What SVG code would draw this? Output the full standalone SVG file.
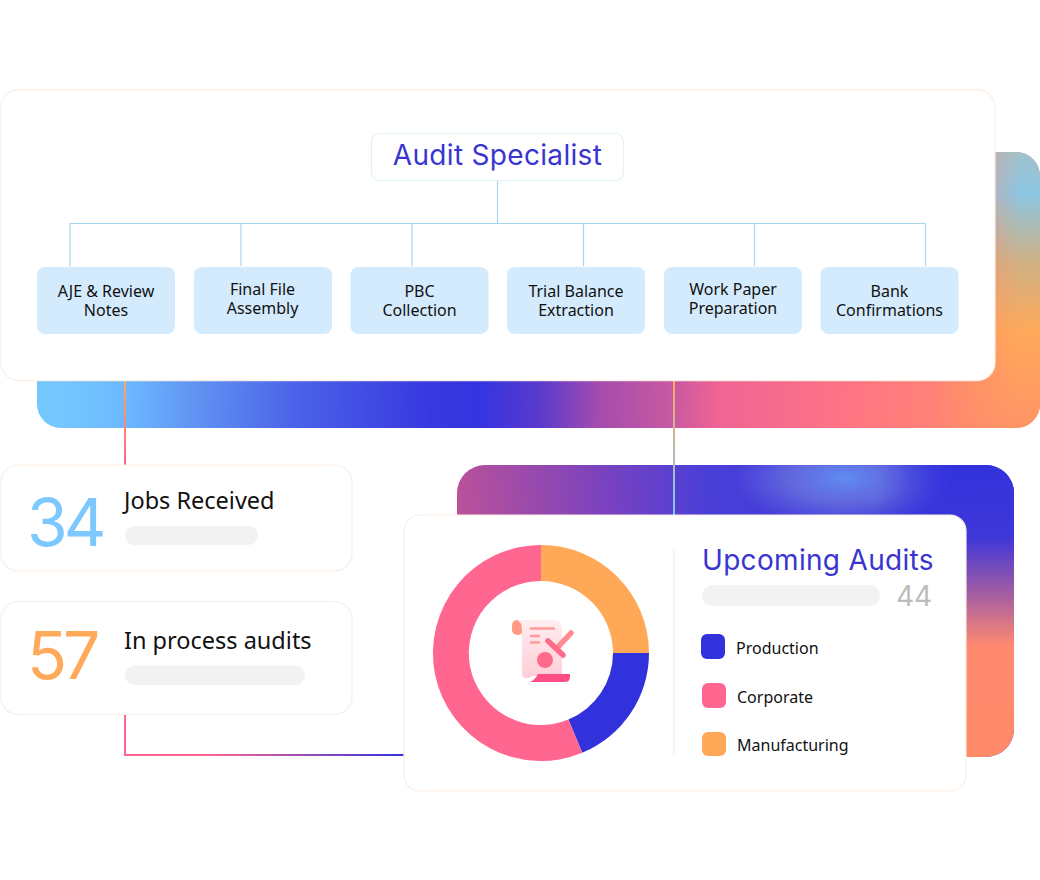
<svg xmlns="http://www.w3.org/2000/svg" width="1040" height="880" viewBox="0 0 1040 880">
<style>
.card{fill:#fff;stroke:#fbeee4;stroke-width:1.2}
.task{fill:#d4ebfd}
.tl{font-family:"Noto Sans","Open Sans",sans-serif;font-size:16px;fill:#111;text-anchor:middle}
.h{font-family:Inter,"Liberation Sans",sans-serif;fill:#3a35d0;font-size:28px;letter-spacing:.32px}
.big{font-family:Inter,"Liberation Sans",sans-serif;font-size:66px;font-weight:400;letter-spacing:-4px}
.lab{font-family:"Noto Sans","Open Sans",sans-serif;font-size:23.500px;fill:#111}
.leg{font-family:"Noto Sans","Open Sans",sans-serif;font-size:16px;fill:#111}
.bar{fill:#f2f2f2}
.tree{fill:none;stroke:#a5d8ee;stroke-width:1.2}
</style>
<defs>
<linearGradient id="b1" gradientUnits="userSpaceOnUse" x1="60" y1="385" x2="1040" y2="425">
<stop offset="0" stop-color="#74c7ff"/><stop offset=".07" stop-color="#6cb8ff"/><stop offset=".14" stop-color="#6092f2"/><stop offset=".245" stop-color="#4a60e8"/><stop offset=".38" stop-color="#3838e0"/><stop offset=".43" stop-color="#3535e0"/><stop offset=".49" stop-color="#5a3acc"/><stop offset=".55" stop-color="#a44cae"/><stop offset=".63" stop-color="#cc5aa0"/><stop offset=".67" stop-color="#ee6494"/><stop offset=".8" stop-color="#ff7484"/><stop offset="1" stop-color="#ff9266"/>
</linearGradient>
<linearGradient id="b1r" gradientUnits="userSpaceOnUse" x1="0" y1="152" x2="0" y2="428">
<stop offset="0" stop-color="#a0c2cc"/><stop offset=".15" stop-color="#8cc6e4"/><stop offset=".4" stop-color="#cfb184"/><stop offset=".65" stop-color="#ffa95a"/><stop offset="1" stop-color="#ff9466"/>
</linearGradient>
<linearGradient id="b2" gradientUnits="userSpaceOnUse" x1="457" y1="530" x2="1014" y2="480">
<stop offset="0" stop-color="#bb5298"/><stop offset=".27" stop-color="#7a42bf"/><stop offset=".45" stop-color="#4a3fd8"/><stop offset="1" stop-color="#3232dd"/>
</linearGradient>
<radialGradient id="glow" gradientUnits="userSpaceOnUse" cx="0" cy="0" r="1" gradientTransform="translate(845 478) scale(110 50)">
<stop offset="0" stop-color="#5f8cf2"/><stop offset=".5" stop-color="#6f7ae0" stop-opacity=".7"/><stop offset="1" stop-color="#6f7ae0" stop-opacity="0"/>
</radialGradient>
<linearGradient id="b2r" gradientUnits="userSpaceOnUse" x1="0" y1="465" x2="0" y2="757">
<stop offset="0" stop-color="#3232dd"/><stop offset=".25" stop-color="#3f37d8"/><stop offset=".45" stop-color="#a85fa0"/><stop offset=".62" stop-color="#ff8a70"/><stop offset="1" stop-color="#ff8a68"/>
</linearGradient>
<linearGradient id="fade1" gradientUnits="userSpaceOnUse" x1="930" y1="0" x2="1020" y2="0"><stop offset="0" stop-color="#000"/><stop offset="1" stop-color="#fff"/></linearGradient>
<linearGradient id="fade2" gradientUnits="userSpaceOnUse" x1="880" y1="0" x2="965" y2="0"><stop offset="0" stop-color="#000"/><stop offset="1" stop-color="#fff"/></linearGradient>
<mask id="m1" maskUnits="userSpaceOnUse" x="0" y="0" width="1040" height="880"><rect width="1040" height="880" fill="url(#fade1)"/></mask>
<mask id="m2" maskUnits="userSpaceOnUse" x="0" y="0" width="1040" height="880"><rect width="1040" height="880" fill="url(#fade2)"/></mask>
<linearGradient id="c1" gradientUnits="userSpaceOnUse" x1="0" y1="381" x2="0" y2="465"><stop offset="0" stop-color="#ffa95a"/><stop offset="1" stop-color="#ff6690"/></linearGradient>
<linearGradient id="c2" gradientUnits="userSpaceOnUse" x1="125" y1="0" x2="404" y2="0"><stop offset="0" stop-color="#ff6690"/><stop offset=".3" stop-color="#ff6690"/><stop offset="1" stop-color="#3232dd"/></linearGradient>
<linearGradient id="c3" gradientUnits="userSpaceOnUse" x1="0" y1="381" x2="0" y2="515"><stop offset="0" stop-color="#ffa95a"/><stop offset="1" stop-color="#7cc8ff"/></linearGradient>
<linearGradient id="paper" x1="0" y1="0" x2="0" y2="1"><stop offset="0" stop-color="#ffeef0"/><stop offset="1" stop-color="#ffcdd8"/></linearGradient>
</defs>
<g id="backdrops">
<rect x="37" y="152" width="1003" height="276" rx="24" fill="url(#b1)"/>
<rect x="37" y="152" width="1003" height="276" rx="24" fill="url(#b1r)" mask="url(#m1)"/>
<rect x="457" y="465" width="557" height="292" rx="28" fill="url(#b2)"/>
<rect x="457" y="465" width="557" height="292" rx="28" fill="url(#glow)"/>
<rect x="457" y="465" width="557" height="292" rx="28" fill="url(#b2r)" mask="url(#m2)"/>
</g>
<g id="connectors" fill="none">
<path d="M125 381V465" stroke="url(#c1)" stroke-width="2"/>
<path d="M125 714V755" stroke="#ff6690" stroke-width="2"/>
<path d="M124 755H404" stroke="url(#c2)" stroke-width="2"/>
<path d="M674 381V515" stroke="url(#c3)" stroke-width="2"/>
</g>
<g id="main-card">
<rect class="card" x=".6" y="89.6" width="994.4" height="291" rx="18"/>
<g class="tree">
<path d="M497.5 181V223.5M70 266V223.5H925.5V266M241 223.5V266M412 223.5V266M583.5 223.5V266M754.5 223.5V266"/>
</g>
</g>
<g id="audit-specialist">
<rect x="371.5" y="133.5" width="252" height="47" rx="8" fill="#fff" stroke="#e0f2fa" stroke-width="1.2"/>
<text class="h" x="497.5" y="165" text-anchor="middle">Audit Specialist</text>
</g>
<g id="task-1"><rect class="task" x="37" y="267" width="138" height="67" rx="8"/><text class="tl"><tspan x="106" y="297">AJE &amp; Review</tspan><tspan x="106" y="316">Notes</tspan></text></g>
<g id="task-2"><rect class="task" x="194" y="267" width="138" height="67" rx="8"/><text class="tl"><tspan x="262.5" y="295">Final File</tspan><tspan x="262.5" y="314">Assembly</tspan></text></g>
<g id="task-3"><rect class="task" x="350.500" y="267" width="138" height="67" rx="8"/><text class="tl"><tspan x="419.500" y="297">PBC</tspan><tspan x="419.500" y="316">Collection</tspan></text></g>
<g id="task-4"><rect class="task" x="507" y="267" width="138" height="67" rx="8"/><text class="tl"><tspan x="576" y="297">Trial Balance</tspan><tspan x="576" y="316">Extraction</tspan></text></g>
<g id="task-5"><rect class="task" x="664" y="267" width="138" height="67" rx="8"/><text class="tl"><tspan x="733" y="295">Work Paper</tspan><tspan x="733" y="314">Preparation</tspan></text></g>
<g id="task-6"><rect class="task" x="820.500" y="267" width="138" height="67" rx="8"/><text class="tl"><tspan x="889.500" y="297">Bank</tspan><tspan x="889.500" y="316">Confirmations</tspan></text></g>
<g id="jobs-received">
<rect class="card" x=".6" y="465" width="351.500" height="106" rx="18"/>
<text class="big" x="27" y="545.500" fill="#7cc8ff">34</text>
<text class="lab" x="124" y="509">Jobs Received</text>
<rect class="bar" x="125" y="526" width="133" height="19" rx="9.500"/>
</g>
<g id="in-process">
<rect class="card" x=".6" y="601.500" width="351.500" height="113" rx="18"/>
<text class="big" x="27" y="679" fill="#ffa95a">57</text>
<text class="lab" x="124" y="649">In process audits</text>
<rect class="bar" x="125" y="665.500" width="180" height="19.500" rx="9.700"/>
</g>
<g id="upcoming-audits">
<rect class="card" x="404" y="515" width="562" height="276" rx="16"/>
<path d="M541 545A108 108 0 0 1 649 653H613A72 72 0 0 0 541 581Z" fill="#ffa958"/>
<path d="M649 653A108 108 0 0 1 582.200 752.800L568.400 719.500A72 72 0 0 0 613 653Z" fill="#3232dd"/>
<path d="M582.200 752.800A108 108 0 1 1 541 545V581A72 72 0 1 0 568.400 719.500Z" fill="#ff6690"/>
<g id="doc-icon">
<rect x="512" y="620" width="11" height="15" rx="5" fill="#ff9b85"/>
<path d="M517 620H553Q562 620 562 629V676H533Q522 682 522 672V630Q522 622 517 620Z" fill="url(#paper)"/>
<path d="M538 674H570V677Q570 682 565 682H530Q535 680 538 674Z" fill="#ff4d85"/>
<path d="M531 628.500H554M531 636H539M531 642.500H539" stroke="#ff9b9b" stroke-width="2.500" stroke-linecap="round" fill="none"/>
<circle cx="545" cy="660" r="8" fill="#ff6b8a"/>
<path d="M558 647L571 633" stroke="#ff8a90" stroke-width="5.500" stroke-linecap="round"/>
<path d="M548 641L563 655" stroke="#ff6b8a" stroke-width="5.500" stroke-linecap="round"/>
</g>
<path d="M674 549V755" stroke="#eeeeee" stroke-width="1.300"/>
<text class="h" x="702" y="570">Upcoming Audits</text>
<rect class="bar" x="702" y="585" width="178" height="21" rx="10.500"/>
<text x="896" y="606" font-family="Inter,'Liberation Sans',sans-serif" font-size="28" fill="#bcbcbc">44</text>
<rect x="701" y="634" width="24" height="25" rx="6" fill="#3232dd"/>
<text class="leg" x="736" y="653.500">Production</text>
<rect x="702" y="683" width="24" height="25" rx="6" fill="#ff6690"/>
<text class="leg" x="737" y="702.500">Corporate</text>
<rect x="702" y="732" width="24" height="24" rx="6" fill="#ffa958"/>
<text class="leg" x="737" y="751">Manufacturing</text>
</g>
</svg>
